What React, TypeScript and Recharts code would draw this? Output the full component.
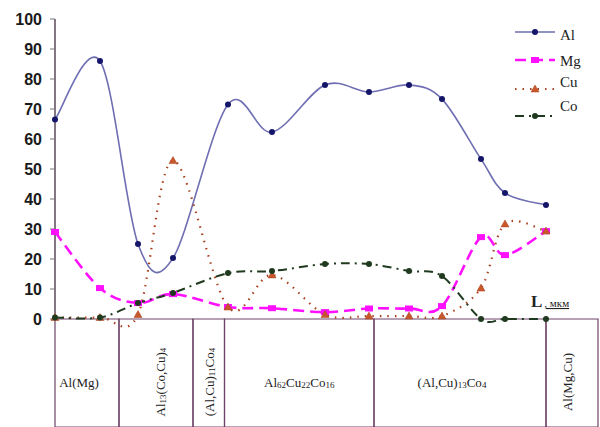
import React from 'react';
import { LineChart, Line, XAxis, YAxis, ReferenceArea, ReferenceDot, Legend } from 'recharts';

// Distance along the diffusion zone (L, arbitrary units as in the plot)
const positions = [0, 45, 83, 118, 173, 217, 270, 314, 354, 387, 426, 450, 491];
// Concentrations, %
const alValues = [66.5, 86, 25, 20.3, 71.5, 62.3, 78, 75.7, 78, 73.3, 53.3, 42, 38];
const mgValues = [29, 10.3, 5.3, 8.3, 4, 3.6, 2.3, 3.5, 3.5, 4.3, 27.3, 21.3, 29.3];
const cuValues = [0.5, 0.5, 1.5, 52.8, 4, 14.7, 1.5, 1, 1, 1, 10.3, 31.7, 29.3];
const coValues = [0.5, 0.5, 5.3, 8.7, 15.3, 16, 18.3, 18.3, 16, 14.3, 0, 0, 0];

const yTicks = [0, 10, 20, 30, 40, 50, 60, 70, 80, 90, 100];

// Phase zones below the axis: boundaries in L and their labels
const phaseBounds = [0, 64, 138, 169.5, 319, 491, 543];
const phaseLabels: [string, boolean][][] = [
  [['Al(Mg)', false]],
  [['Al', false], ['13', true], ['(Co,Cu)', false], ['4', true]],
  [['(Al,Cu)', false], ['11', true], ['Co', false], ['4', true]],
  [['Al', false], ['62', true], ['Cu', false], ['22', true], ['Co', false], ['16', true]],
  [['(Al,Cu)', false], ['13', true], ['Co', false], ['4', true]],
  [['Al(Mg,Cu)', false]],
];
const phaseVertical = [false, true, true, false, false, true];
const phaseShift = [-8, 4, 0, 0, -8, -5];

const data = positions.map((L, i) => ({
  L,
  Al: alValues[i],
  Mg: mgValues[i],
  Cu: cuValues[i],
  Co: coValues[i],
}));

// Excel-like smoothed curve (Catmull-Rom through the points)
const excelSmooth: any = (context: any) => {
  let pts: number[][] = [];
  return {
    areaStart() {},
    areaEnd() {},
    lineStart() {
      pts = [];
    },
    lineEnd() {
      const n = pts.length;
      if (n === 0) return;
      context.moveTo(pts[0][0], pts[0][1]);
      for (let i = 0; i < n - 1; i++) {
        const p0 = pts[Math.max(i - 1, 0)];
        const p1 = pts[i];
        const p2 = pts[i + 1];
        const p3 = pts[Math.min(i + 2, n - 1)];
        context.bezierCurveTo(
          p1[0] + (p2[0] - p0[0]) / 6,
          p1[1] + (p2[1] - p0[1]) / 6,
          p2[0] - (p3[0] - p1[0]) / 6,
          p2[1] - (p3[1] - p1[1]) / 6,
          p2[0],
          p2[1]
        );
      }
    },
    point(x: number, y: number) {
      pts.push([+x, +y]);
    },
  };
};

const COLORS = {
  Al: '#6e6eb2',
  AlDot: '#15156a',
  Mg: '#ff10ff',
  Cu: '#a8401e',
  CuDot: '#c8582c',
  Co: '#1f3a1f',
  axis: '#6d4468',
};

const marker = (kind: string, cx: number, cy: number, key?: any) => {
  if (kind === 'Al') return <circle key={key} cx={cx} cy={cy} r={3} fill={COLORS.AlDot} />;
  if (kind === 'Mg') return <rect key={key} x={cx - 4} y={cy - 3} width={8} height={6} fill={COLORS.Mg} />;
  if (kind === 'Cu')
    return (
      <path
        key={key}
        d={`M${cx},${cy - 4} L${cx + 4},${cy + 3} L${cx - 4},${cy + 3} Z`}
        fill={COLORS.CuDot}
        stroke={COLORS.Cu}
        strokeWidth={0.5}
      />
    );
  return <circle key={key} cx={cx} cy={cy} r={3} fill={COLORS.Co} />;
};

const dotFor = (kind: string) => (props: any) => marker(kind, props.cx, props.cy, `${kind}-${props.index}`);

const series = [
  { key: 'Al', color: COLORS.Al, width: 1.6, dash: undefined as string | undefined },
  { key: 'Mg', color: COLORS.Mg, width: 2.6, dash: '11 6' },
  { key: 'Cu', color: COLORS.Cu, width: 2.2, dash: '1.5 6' },
  { key: 'Co', color: COLORS.Co, width: 2, dash: '9 5 2 5' },
];

const legendRows = [
  { key: 'Al', lineY: 32, textY: 40 },
  { key: 'Mg', lineY: 60, textY: 66 },
  { key: 'Cu', lineY: 89, textY: 87 },
  { key: 'Co', lineY: 116, textY: 111 },
];

const renderLegend = () => (
  <svg width={100} height={125} style={{ display: 'block' }}>
    {legendRows.map((r) => {
      const s = series.find((x) => x.key === r.key)!;
      return (
        <g key={r.key}>
          <line
            x1={15}
            x2={55}
            y1={r.lineY}
            y2={r.lineY}
            stroke={s.color}
            strokeWidth={s.width}
            strokeDasharray={s.dash}
          />
          {marker(r.key, 35, r.lineY)}
          <text x={60} y={r.textY} fontFamily="'Liberation Serif', serif" fontSize={15} fill="#222">
            {r.key}
          </text>
        </g>
      );
    })}
  </svg>
);

const renderPhase = (idx: number) => (props: any) => {
  const vb = props.viewBox || {};
  const cx = vb.x + vb.width / 2 + phaseShift[idx];
  const cy = 382;
  const parts = phaseLabels[idx];
  let sub = false;
  const spans = parts.map(([t, isSub], i) => {
    let dy = 0;
    if (isSub && !sub) dy = 3;
    if (!isSub && sub) dy = -3;
    sub = isSub;
    return (
      <tspan key={i} dy={dy} fontSize={isSub ? 9 : 13}>
        {t}
      </tspan>
    );
  });
  return (
    <text
      x={cx}
      y={cy}
      textAnchor="middle"
      dominantBaseline="central"
      fontFamily="'Liberation Serif', serif"
      fill="#222"
      transform={phaseVertical[idx] ? `rotate(-90 ${cx} ${cy})` : undefined}
    >
      {spans}
    </text>
  );
};

const renderUnit = (props: any) => {
  const vb = props.viewBox || {};
  return (
    <text x={vb.x} y={vb.y} fontFamily="'Liberation Serif', serif" fill="#222">
      <tspan fontSize={17} fontWeight="bold">L</tspan>
      <tspan fontSize={11} dx={2} textDecoration="underline">, мкм</tspan>
    </text>
  );
};

export default function App() {
  return (
    <div style={{ position: 'absolute', left: 0, top: 0, width: 600, height: 427, background: '#fff' }}>
      <LineChart width={600} height={427} data={data} margin={{ top: 19, right: 2, bottom: 108, left: 0 }}>
        {phaseLabels.map((_, i) => (
          <ReferenceArea
            key={`ph-${i}`}
            x1={phaseBounds[i]}
            x2={phaseBounds[i + 1]}
            y1={0}
            y2={-36}
            ifOverflow="visible"
            fill="none"
            fillOpacity={0}
            stroke={COLORS.axis}
            strokeWidth={1.2}
            label={renderPhase(i)}
          />
        ))}
        <XAxis
          type="number"
          dataKey="L"
          domain={[0, 543]}
          height={0}
          tick={false}
          tickLine={false}
          axisLine={{ stroke: COLORS.axis, strokeWidth: 1.5 }}
        />
        <YAxis
          type="number"
          domain={[0, 100]}
          ticks={yTicks}
          width={55}
          tickSize={5}
          tickMargin={8}
          interval={0}
          axisLine={{ stroke: '#5a4a58', strokeWidth: 1.5 }}
          tickLine={{ stroke: '#777' }}
          tick={{ fontFamily: "'Liberation Sans', Arial, sans-serif", fontWeight: 'bold', fontSize: 16, fill: '#1a1a1a' }}
        />
        {series.map((s) => (
          <Line
            key={s.key}
            dataKey={s.key}
            type={excelSmooth}
            stroke={s.color}
            strokeWidth={s.width}
            strokeDasharray={s.dash}
            dot={dotFor(s.key)}
            activeDot={false}
            isAnimationActive={false}
          />
        ))}
        <ReferenceDot x={476} y={4} r={0} fill="none" stroke="none" label={renderUnit} />
        <Legend
          layout="vertical"
          align="center"
          verticalAlign="middle"
          wrapperStyle={{ left: 500, top: 0, width: 100, height: 125 }}
          content={renderLegend}
        />
      </LineChart>
    </div>
  );
}
